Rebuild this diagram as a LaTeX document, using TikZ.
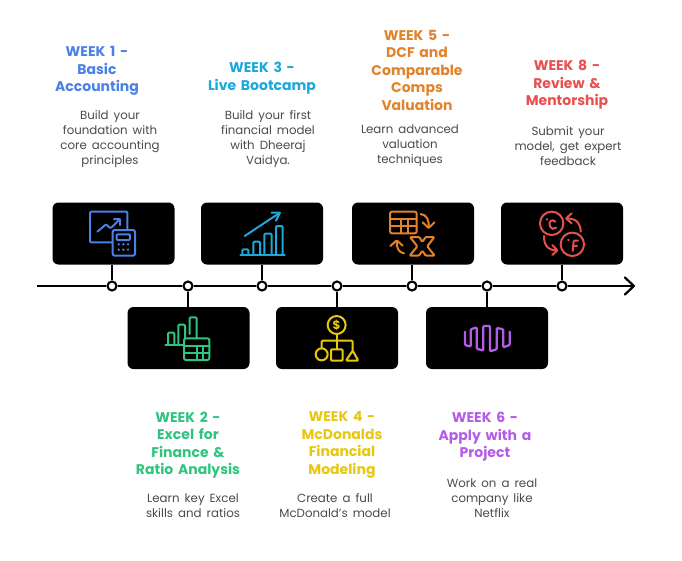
\documentclass[tikz,border=0pt]{standalone}
\usepackage{fontspec}
\setmainfont[WordSpace=1.6]{Poppins}
\usetikzlibrary{arrows.meta}
\definecolor{cblue}{HTML}{4A80E8}
\definecolor{cgreen}{HTML}{2FC57F}
\definecolor{ccyan}{HTML}{1BA8DC}
\definecolor{cyell}{HTML}{E8C80E}
\definecolor{corange}{HTML}{E2822B}
\definecolor{cpurple}{HTML}{B45BE8}
\definecolor{cred}{HTML}{E8504F}
\definecolor{cbody}{HTML}{4A4A4A}
\tikzset{
  iconbox/.style={fill=black,rounded corners=6pt,minimum width=122pt,minimum height=62pt,inner sep=0pt},
  dot/.style={circle,draw=black,fill=white,line width=2.1pt,minimum size=9pt,inner sep=0pt},
  axis/.style={line width=2.2pt,draw=black},
  stem/.style={line width=2pt,draw=black},
  head/.style={align=center,inner sep=0pt,font=\fontsize{14}{17.5}\selectfont\bfseries},
  body/.style={align=center,inner sep=0pt,text=cbody,font=\fontsize{11.8}{15}\selectfont},
  ic/.style={line width=2pt,line cap=round,line join=round,rounded corners=1pt},
  zl/.style={shift={(40pt,-190pt)},x=0.33333pt,y=-0.33333pt},
  zr/.style={shift={(340pt,-190pt)},x=0.33333pt,y=-0.33333pt}
}
\begin{document}
\begin{tikzpicture}[x=1pt,y=-1pt]
\useasboundingbox[fill=white] (0,0) rectangle (682,560);
% boxes
\node[iconbox] (b1) at (113.5,233.5) {};
\node[iconbox] (b2) at (188.5,338) {};
\node[iconbox] (b3) at (262,233.5) {};
\node[iconbox] (b4) at (337,338) {};
\node[iconbox] (b5) at (413,233.5) {};
\node[iconbox] (b6) at (487,338) {};
\node[iconbox] (b7) at (562,233.5) {};
% dots
\node[dot] (d1) at (112,286) {};
\node[dot] (d2) at (188,286) {};
\node[dot] (d3) at (262,286) {};
\node[dot] (d4) at (337,286) {};
\node[dot] (d5) at (412,286) {};
\node[dot] (d6) at (487,286) {};
\node[dot] (d7) at (562,286) {};
\coordinate (start) at (37,286);
\coordinate (end) at (635,286);
% axis
\draw[axis] (start) -- (d1);
\draw[axis] (d1) -- (d2);
\draw[axis] (d2) -- (d3);
\draw[axis] (d3) -- (d4);
\draw[axis] (d4) -- (d5);
\draw[axis] (d5) -- (d6);
\draw[axis] (d6) -- (d7);
\draw[axis,-{Straight Barb[length=9pt,width=17pt,line cap=round,round]}] (d7) -- (end);
% stems
\draw[stem] (b1.south -| d1) -- (d1);
\draw[stem] (b2.north -| d2) -- (d2);
\draw[stem] (b3.south -| d3) -- (d3);
\draw[stem] (b4.north -| d4) -- (d4);
\draw[stem] (b5.south -| d5) -- (d5);
\draw[stem] (b6.north -| d6) -- (d6);
\draw[stem] (b7.south -| d7) -- (d7);
% icon 1
\begin{scope}[zl,ic,draw=cblue,cblue]
\draw (217,157) -- (150,157) -- (150,65) -- (262,65) -- (262,118);
\draw (172,125) -- (198,103) -- (212,115) -- (240,87);
\draw (222,87) -- (240,87) -- (240,105);
\draw[rounded corners=2pt] (218,120) rectangle (285,197);
\draw (230,133) rectangle (270,150);
\foreach \xx in {236,250,264} \foreach \yy in {163,179}
  \fill (\xx,\yy) circle (1.3pt);
\end{scope}
% icon 2
\begin{scope}[zl,ic,draw=cgreen,cgreen]
\draw (376,464) -- (430,464);
\draw (384,464) -- (384,428) -- (403,428) -- (403,464);
\draw (415,464) -- (415,404) -- (435,404) -- (435,443);
\draw (449,432) -- (449,382) -- (470,382) -- (470,443);
\draw[rounded corners=2pt] (432,445) rectangle (508,510);
\draw (432,467) -- (508,467);
\draw (432,488) -- (508,488);
\draw (470,467) -- (470,510);
\draw (489,467) -- (489,510);
\end{scope}
% icon 3
\begin{scope}[zl,ic,draw=ccyan,ccyan]
\draw (601,194) -- (734,194);
\draw (607,194) -- (607,178) -- (625,178) -- (625,194);
\draw (640,194) -- (640,155) -- (660,155) -- (660,194);
\draw (673,194) -- (673,131) -- (695,131) -- (695,194);
\draw (708,194) -- (708,108) -- (728,108) -- (728,194);
\draw (614,138) -- (720,68);
\draw (695,68) -- (720,68) -- (708,92);
\end{scope}
% icon 4
\begin{scope}[zl,ic,draw=cyell,cyell]
\draw (890,405) circle (9pt);
\node[inner sep=0pt,font=\fontsize{12}{12}\selectfont\bfseries] (dollar) at (890,405) {\$};
\draw (890,432) -- (890,478);
\draw (845,475) -- (845,452) -- (938,452) -- (938,482);
\draw (845,493) circle (6pt);
\draw (873,478) rectangle (908,512);
\draw (938,482) -- (918,512) -- (955,512) -- cycle;
\end{scope}
% icon 5
\begin{scope}[zr,ic,draw=corange,corange]
\draw[rounded corners=2pt] (150,65) rectangle (230,130);
\draw (150,87) -- (230,87);
\draw (150,108) -- (230,108);
\draw (182,87) -- (182,130);
\draw (205,87) -- (205,130);
\draw (242,72) .. controls (260,74) and (268,90) .. (266,113);
\draw (248,97) -- (266,114) -- (283,97);
\draw (192,190) .. controls (175,188) and (168,170) .. (171,152);
\draw (151,168) -- (170,151) -- (188,167);
\draw (210,141) -- (238,141) -- (247,156) -- (257,141) -- (283,141) -- (262,169) -- (284,197) -- (257,197) -- (247,182) -- (237,197) -- (209,197) -- (232,169) -- cycle;
\end{scope}
% icon 6
\begin{scope}[zr,ic,draw=cpurple,cpurple,line width=2.3pt]
\draw (375,425) -- (375,465) -- (392,470) -- (392,418) -- (410,412) -- (410,476) -- (430,482) -- (430,408) -- (450,408) -- (450,484) -- (470,478) -- (470,414) -- (490,418) -- (490,472) -- (509,465) -- (509,425);
\end{scope}
% icon 7
\begin{scope}[zr,ic,draw=cred,cred]
\draw (635,100) circle (11.7pt);
\draw (697,163) circle (11.7pt);
\fill (621,88) circle (1.2pt);
\fill (685,150) circle (1.2pt);
\draw (646,95) .. controls (636,85) and (626,95) .. (630,108) .. controls (633,118) and (642,118) .. (648,113);
\draw (698,183) -- (701,152) -- (714,152);
\draw (698,167) -- (711,167);
\draw (722,125) .. controls (722,100) and (710,85) .. (678,85);
\draw (695,70) -- (678,85) -- (695,100);
\draw (612,138) .. controls (612,165) and (622,181) .. (652,181);
\draw (637,165) -- (652,181) -- (637,195);
\end{scope}
% texts
\node[head,text=cblue] (h1) at (97,71) {WEEK 1 -\\Basic\\Accounting};
\node[body] (t1) at (110,139) {Build your\\foundation with\\core accounting\\principles};
\node[head,text=cgreen] (h2) at (188,445) {WEEK 2 -\\Excel for\\Finance \&\\Ratio Analysis};
\node[body] (t2) at (193,506) {Learn key Excel\\skills and ratios};
\node[head,text=ccyan] (h3) at (262,78) {WEEK 3 -\\Live Bootcamp};
\node[body] (t3) at (268,139) {Build your first\\financial model\\with Dheeraj\\Vaidya.};
\node[head,text=cyell] (h4) at (342,445) {WEEK 4 -\\McDonalds\\Financial\\Modeling};
\node[body] (t4) at (335,506) {Create a full\\McDonald’s model};
\node[head,text=corange] (h5) at (417,70) {WEEK 5 -\\DCF and\\Comparable\\Comps\\Valuation};
\node[body] (t5) at (410,146) {Learn advanced\\valuation\\techniques};
\node[head,text=cpurple] (h6) at (485,437) {WEEK 6 -\\Apply with a\\Project};
\node[body] (t6) at (492,498) {Work on a real\\company like\\Netflix};
\node[head,text=cred] (h8) at (567,85) {WEEK 8 -\\Review \&\\Mentorship};
\node[body] (t8) at (568,146) {Submit your\\model, get expert\\feedback};
\end{tikzpicture}
\end{document}
